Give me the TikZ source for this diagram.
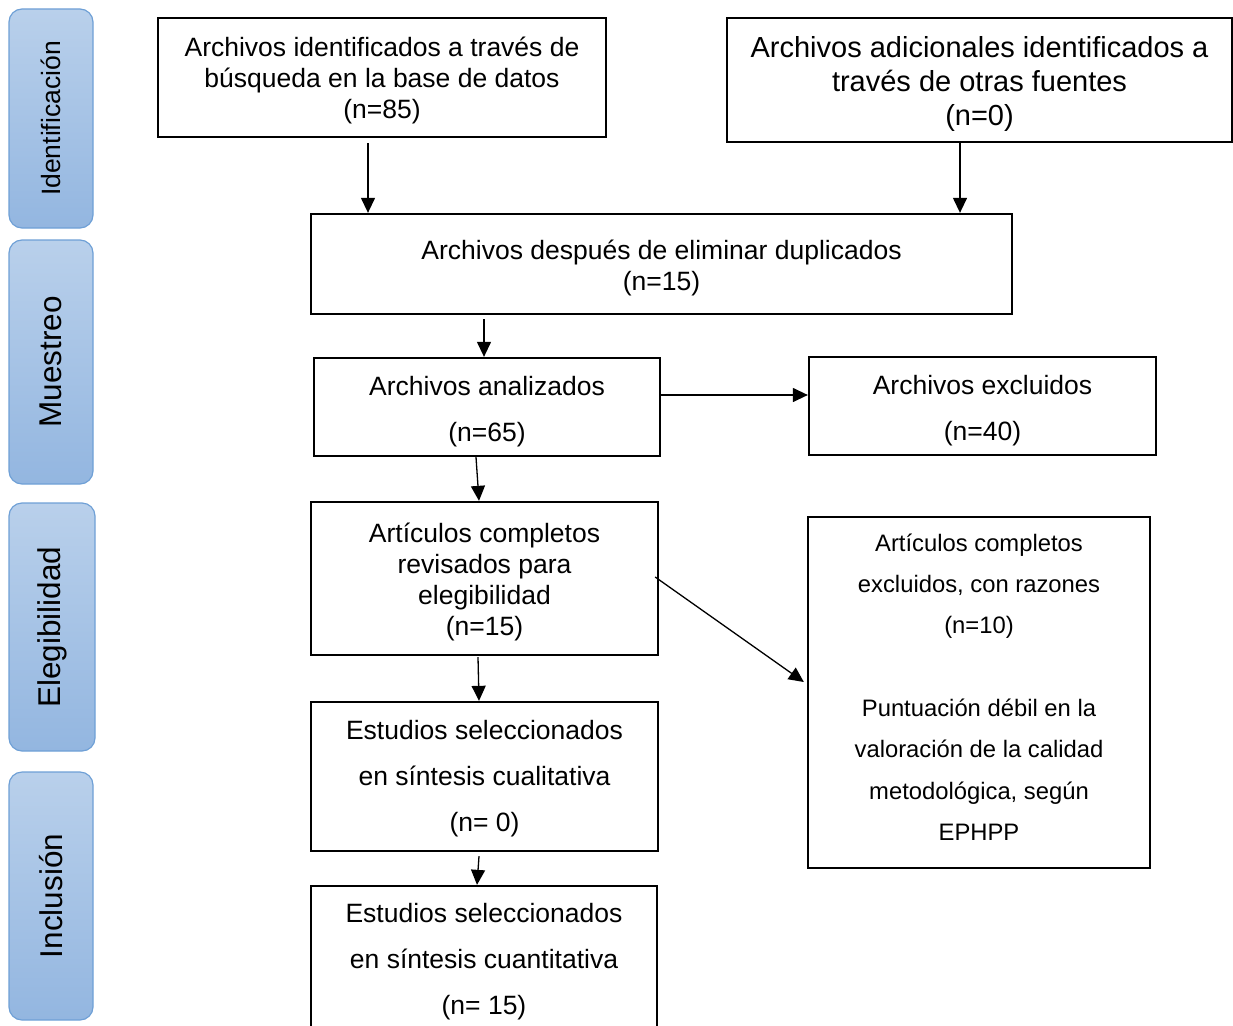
\documentclass[tikz,border=0pt]{standalone}
\usepackage{fontspec}
\setmainfont{Liberation Sans}
\usetikzlibrary{arrows.meta,calc}
\definecolor{barTop}{HTML}{B9D0EB}
\definecolor{barBot}{HTML}{93B6E0}
\definecolor{barEdge}{HTML}{6FA0D6}
\newcommand\boxtext[2]{\raisebox{#1}[\height][\depth]{\begin{tabular}{@{}c@{}}#2\end{tabular}}}
\begin{document}
\begin{tikzpicture}[x=1pt,y=-1pt,
  box/.style={draw=black,line width=2.3pt,inner sep=0pt,anchor=center},
  mainf/.style={font=\fontsize{26.5}{31}\selectfont},
  arr/.style={line width=1.3pt,-{Triangle[length=15pt,width=14pt]}},
  bar/.style={draw=barEdge,line width=1.2pt,rounded corners=13pt,top color=barTop,bottom color=barBot},
  bartext/.style={rotate=90,inner sep=0pt,anchor=center}
]
\useasboundingbox (0,0) rectangle (1233,1025);
\clip (0,0) rectangle (1233,1025);

% side bars
\path[bar] (9,9) rectangle (93,228);
\node[bartext,font=\fontsize{26.5}{31}\selectfont] (s1) at (51,118.5) {Identificación};
\path[bar] (9,240) rectangle (93,484);
\node[bartext,font=\fontsize{31.5}{36}\selectfont] (s2) at (51,362) {Muestreo};
\path[bar] (9,503) rectangle (95,751);
\node[bartext,font=\fontsize{31.5}{36}\selectfont] (s3) at (52,627) {Elegibilidad};
\path[bar] (9,772) rectangle (93,1020);
\node[bartext,font=\fontsize{31.5}{36}\selectfont] (s4) at (51,896) {Inclusión};

% boxes
\node[box,mainf,minimum width=448pt,minimum height=119pt] (A) at (382,77.5)
  {\boxtext{-3.6pt}{Archivos identificados a través de\\búsqueda en la base de datos\\(n=85)}};
\node[box,font=\fontsize{29}{34}\selectfont,minimum width=505pt,minimum height=124pt] (B) at (979.5,80)
  {\boxtext{-4.3pt}{Archivos adicionales identificados a\\través de otras fuentes\\(n=0)}};
\node[box,mainf,minimum width=701pt,minimum height=100pt] (C) at (661.5,264)
  {\boxtext{-4.6pt}{Archivos después de eliminar duplicados\\(n=15)}};
\node[box,font=\fontsize{26.5}{46}\selectfont,minimum width=346pt,minimum height=98pt] (D) at (487,407)
  {\boxtext{-2.1pt}{Archivos analizados\\(n=65)}};
\node[box,font=\fontsize{26.5}{46}\selectfont,minimum width=347pt,minimum height=98pt] (E) at (982.5,406)
  {\boxtext{-2.1pt}{Archivos excluidos\\(n=40)}};
\node[box,mainf,minimum width=347pt,minimum height=153pt] (F) at (484.5,578.5)
  {\boxtext{-4.6pt}{Artículos completos\\revisados para\\elegibilidad\\(n=15)}};
\node[box,font=\fontsize{23.8}{41.3}\selectfont,minimum width=342pt,minimum height=351pt] (G) at (979,692.5)
  {\boxtext{4.9pt}{Artículos completos\\excluidos, con razones\\(n=10)\\[41.3pt]Puntuación débil en la\\valoración de la calidad\\metodológica, según\\EPHPP}};
\node[box,font=\fontsize{26.5}{46}\selectfont,minimum width=347pt,minimum height=149pt] (H) at (484.5,776.5)
  {\boxtext{0.4pt}{Estudios seleccionados\\en síntesis cualitativa\\(n= 0)}};
\node[box,font=\fontsize{26.5}{46}\selectfont,minimum width=346pt,minimum height=146pt] (I) at (484,959)
  {\boxtext{0pt}{Estudios seleccionados\\en síntesis cuantitativa\\(n= 15)}};

% connectors
\draw[arr] ($(A.south)+(-14,5)$) -- ($(C.north)+(-293.5,0)$);
\draw[arr] ($(B.south)+(-19.5,0)$) -- ($(C.north)+(298.5,0)$);
\draw[arr] ($(C.south)+(-177.5,4)$) -- ($(D.north)+(-3,0)$);
\draw[arr] ($(D.east)+(0,-12)$) -- ($(E.west)+(0,-11)$);
\draw[arr] ($(D.south)+(-11,0)$) -- ($(F.north)+(-5.5,0)$);
\draw[arr] ($(F.east)+(-4,-1.5)$) -- ($(G.west)+(-3,-10.5)$);
\draw[arr] ($(F.south)+(-6.5,1)$) -- ($(H.north)+(-5.5,0)$);
\draw[arr] ($(H.south)+(-5.5,4)$) -- ($(I.north)+(-7,0)$);
\end{tikzpicture}
\end{document}
